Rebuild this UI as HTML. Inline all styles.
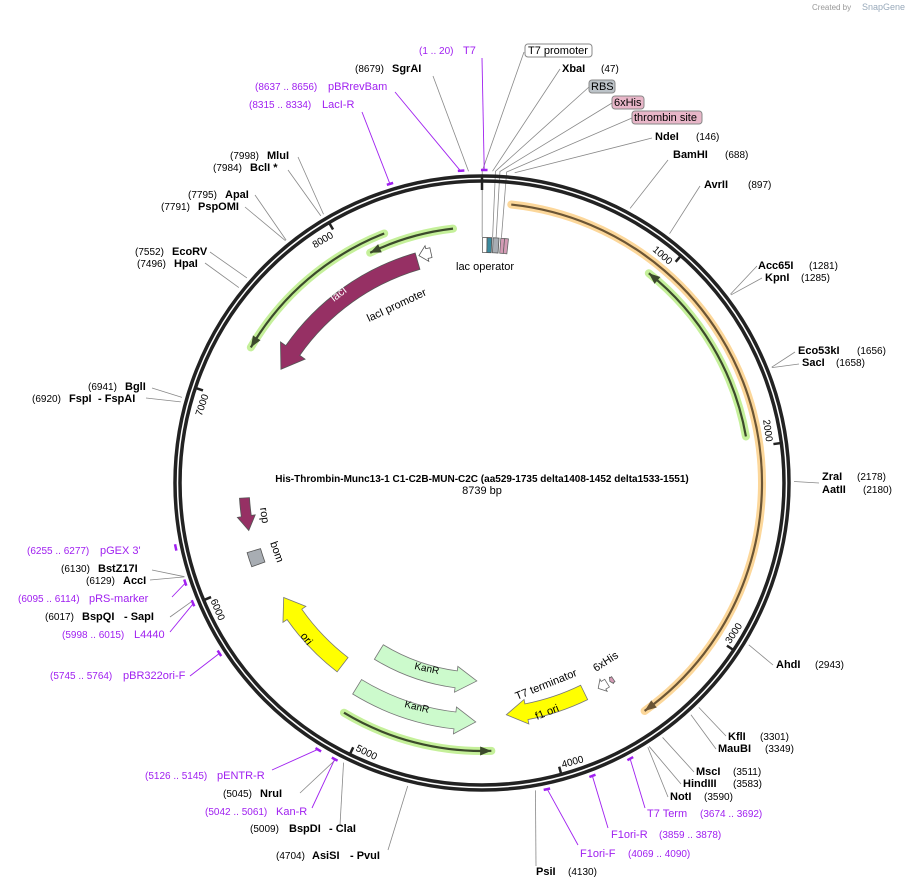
<!DOCTYPE html>
<html><head><meta charset="utf-8"><style>
html,body{margin:0;padding:0;background:#fff;width:910px;height:888px;overflow:hidden}
svg{display:block;font-family:"Liberation Sans","DejaVu Sans",sans-serif}
.n{font-size:10px;fill:#000}
.b{font-size:11px;font-weight:bold;fill:#000}
.p{font-size:11px;fill:#a020f0}
.pn{font-size:10px;fill:#a020f0}
.f{font-size:11px;fill:#000}
</style></head><body>
<svg id="s" width="910" height="888" viewBox="0 0 910 888" xmlns="http://www.w3.org/2000/svg">
<g id="lines"></g>
<circle cx="482" cy="483" r="307" fill="none" stroke="#222" stroke-width="3.5"/>
<circle cx="482" cy="483" r="302" fill="none" stroke="#222" stroke-width="3.5"/>
<g id="feat"></g>
<text x="812" y="10" font-size="8" fill="#999">Created by</text><text x="862" y="10" font-size="9" fill="#9ab">SnapGene</text>
<text x="482" y="482" text-anchor="middle" font-size="10" font-weight="bold">His-Thrombin-Munc13-1 C1-C2B-MUN-C2C (aa529-1735 delta1408-1452 delta1533-1551)</text>
<text x="482" y="494" text-anchor="middle" font-size="11">8739 bp</text>
<text x="419" y="54" class="pn">(1 .. 20)</text><text x="463" y="54" class="p">T7</text>
<rect x="525" y="44" width="67" height="13" rx="3" fill="#fff" stroke="#888"/><text x="528" y="54" class="f">T7 promoter</text>
<text x="562" y="72" class="b">XbaI</text><text x="601" y="72" class="n">(47)</text>
<rect x="589" y="80" width="26" height="13" rx="3" fill="#bcc3c8" stroke="#888"/><text x="591" y="90" class="f">RBS</text>
<rect x="612" y="96" width="32" height="13" rx="3" fill="#e8b6c8" stroke="#888"/><text x="614" y="106" class="f">6xHis</text>
<rect x="632" y="111" width="70" height="13" rx="3" fill="#e8b6c8" stroke="#888"/><text x="634" y="121" class="f">thrombin site</text>
<text x="655" y="140" class="b">NdeI</text><text x="696" y="140" class="n">(146)</text>
<text x="673" y="158" class="b">BamHI</text><text x="725" y="158" class="n">(688)</text>
<text x="704" y="188" class="b">AvrII</text><text x="748" y="188" class="n">(897)</text>
<text x="758" y="269" class="b">Acc65I</text><text x="809" y="269" class="n">(1281)</text>
<text x="765" y="281" class="b">KpnI</text><text x="801" y="281" class="n">(1285)</text>
<text x="798" y="354" class="b">Eco53kI</text><text x="857" y="354" class="n">(1656)</text>
<text x="802" y="366" class="b">SacI</text><text x="836" y="366" class="n">(1658)</text>
<text x="822" y="480" class="b">ZraI</text><text x="857" y="480" class="n">(2178)</text>
<text x="822" y="493" class="b">AatII</text><text x="863" y="493" class="n">(2180)</text>
<text x="776" y="668" class="b">AhdI</text><text x="815" y="668" class="n">(2943)</text>
<text x="728" y="740" class="b">KflI</text><text x="760" y="740" class="n">(3301)</text>
<text x="718" y="752" class="b">MauBI</text><text x="765" y="752" class="n">(3349)</text>
<text x="696" y="775" class="b">MscI</text><text x="733" y="775" class="n">(3511)</text>
<text x="683" y="787" class="b">HindIII</text><text x="733" y="787" class="n">(3583)</text>
<text x="670" y="800" class="b">NotI</text><text x="704" y="800" class="n">(3590)</text>
<text x="647" y="817" class="p">T7 Term</text><text x="700" y="817" class="pn">(3674 .. 3692)</text>
<text x="611" y="838" class="p">F1ori-R</text><text x="659" y="838" class="pn">(3859 .. 3878)</text>
<text x="580" y="857" class="p">F1ori-F</text><text x="628" y="857" class="pn">(4069 .. 4090)</text>
<text x="536" y="875" class="b">PsiI</text><text x="568" y="875" class="n">(4130)</text>
<text x="276" y="859" class="n">(4704)</text><text x="312" y="859" class="b">AsiSI</text><text x="350" y="859" class="b">- PvuI</text>
<text x="250" y="832" class="n">(5009)</text><text x="289" y="832" class="b">BspDI</text><text x="329" y="832" class="b">- ClaI</text>
<text x="205" y="815" class="pn">(5042 .. 5061)</text><text x="276" y="815" class="p">Kan-R</text>
<text x="223" y="797" class="n">(5045)</text><text x="260" y="797" class="b">NruI</text>
<text x="145" y="779" class="pn">(5126 .. 5145)</text><text x="217" y="779" class="p">pENTR-R</text>
<text x="50" y="679" class="pn">(5745 .. 5764)</text><text x="123" y="679" class="p">pBR322ori-F</text>
<text x="62" y="638" class="pn">(5998 .. 6015)</text><text x="134" y="638" class="p">L4440</text>
<text x="45" y="620" class="n">(6017)</text><text x="82" y="620" class="b">BspQI</text><text x="124" y="620" class="b">- SapI</text>
<text x="18" y="602" class="pn">(6095 .. 6114)</text><text x="89" y="602" class="p">pRS-marker</text>
<text x="86" y="584" class="n">(6129)</text><text x="123" y="584" class="b">AccI</text>
<text x="61" y="572" class="n">(6130)</text><text x="98" y="572" class="b">BstZ17I</text>
<text x="27" y="554" class="pn">(6255 .. 6277)</text><text x="100" y="554" class="p">pGEX 3'</text>
<text x="88" y="390" class="n">(6941)</text><text x="125" y="390" class="b">BglI</text>
<text x="32" y="402" class="n">(6920)</text><text x="69" y="402" class="b">FspI</text><text x="98" y="402" class="b">- FspAI</text>
<text x="135" y="255" class="n">(7552)</text><text x="172" y="255" class="b">EcoRV</text>
<text x="137" y="267" class="n">(7496)</text><text x="174" y="267" class="b">HpaI</text>
<text x="188" y="198" class="n">(7795)</text><text x="225" y="198" class="b">ApaI</text>
<text x="161" y="210" class="n">(7791)</text><text x="198" y="210" class="b">PspOMI</text>
<text x="230" y="159" class="n">(7998)</text><text x="267" y="159" class="b">MluI</text>
<text x="213" y="171" class="n">(7984)</text><text x="250" y="171" class="b">BclI *</text>
<text x="249" y="108" class="pn">(8315 .. 8334)</text><text x="322" y="108" class="p">LacI-R</text>
<text x="255" y="90" class="pn">(8637 .. 8656)</text><text x="328" y="90" class="p">pBRrevBam</text>
<text x="355" y="72" class="n">(8679)</text><text x="392" y="72" class="b">SgrAI</text>
<g id="ticks"></g>
<text x="456" y="270" font-size="11">lac operator</text>
<text transform="translate(369,322) rotate(-25)" font-size="11">lacI promoter</text>
<text transform="translate(334,302) rotate(-38)" font-size="11" fill="#fff">lacI</text>
<text transform="translate(260,508) rotate(82)" font-size="11">rop</text>
<text transform="translate(270,543) rotate(70)" font-size="11">bom</text>
<text transform="translate(300,636) rotate(52)" font-size="11">ori</text>
<text transform="translate(414,669) rotate(12)" font-size="10">KanR</text>
<text transform="translate(404,707) rotate(14)" font-size="10">KanR</text>
<text transform="translate(517,700) rotate(-22)" font-size="11">T7 terminator</text>
<text transform="translate(596,672) rotate(-33)" font-size="11">6xHis</text>
<text transform="translate(537,720) rotate(-22)" font-size="11">f1 ori</text>
</svg>
<script>
var cx=482,cy=483,N=8739,NS="http://www.w3.org/2000/svg";
function A(p){return p/N*360;}
function P(r,a){a=a*Math.PI/180;return [cx+r*Math.sin(a),cy-r*Math.cos(a)];}
function el(g,t,at){var e=document.createElementNS(NS,t);for(var k in at)e.setAttribute(k,at[k]);document.getElementById(g).appendChild(e);return e;}
function arc(r,a1,a2){var p1=P(r,a1),p2=P(r,a2),l=Math.abs(a2-a1)>180?1:0,sw=a2>a1?1:0;return "M"+p1+" A"+r+" "+r+" 0 "+l+" "+sw+" "+p2;}
function L(pos,x,y,r){var a=A(pos),p=P(312,a);var pts=(r?P(r,a)+" ":"")+p+" "+x+","+y;el("lines","polyline",{points:pts,fill:"none",stroke:"#888","stroke-width":0.8});}
[[1,524,52,246],[47,560,69],[60,589,87,246],[80,612,103,246],[110,632,118,246],[146,652,138],[688,668,160],[897,700,186],[1281,757,266],[1285,762,278],[1656,795,352],[1658,799,364],[2178,819,483],[2943,773,665],[3301,726,736],[3349,716,749],[3511,694,772],[3583,681,784],[3590,668,797],[4130,536,866],[4704,388,850],[5009,340,825],[5045,300,793],[6130,152,570],[6129,150,580],[6017,170,617],[6941,152,388],[6920,146,398],[7552,210,252],[7496,205,263],[7795,255,195],[7791,245,207],[7984,288,170],[7998,298,157],[8679,433,76]].forEach(function(d){L(d[0],d[1],d[2],d[3]);});
function Pr(pos,x,y){var a=A(pos);var p=P(312,a);el("lines","path",{d:arc(313,a-0.6,a+0.6),stroke:"#a020f0","stroke-width":2.5,fill:"none"});if(x!=null)el("lines","line",{x1:p[0],y1:p[1],x2:x,y2:y,stroke:"#a020f0","stroke-width":0.9});}
Pr(10,482,58);Pr(8646,395,92);Pr(8324,362,112);Pr(6266);Pr(6104,172,597);Pr(6006,170,632);Pr(5754,190,676);Pr(5135,272,770);Pr(5051,312,808);Pr(3683,645,808);Pr(3868,608,828);Pr(4079,578,845);
for(var k=1;k<=8;k++){var a=A(k*1000),p1=P(303,a),p2=P(294,a);el("ticks","line",{x1:p1[0],y1:p1[1],x2:p2[0],y2:p2[1],stroke:"#222","stroke-width":2.5});
 var flip=(a>90&&a<270),r=flip?296:287,pt=P(r,a),rot=flip?a-180:a;var t=el("ticks","text",{transform:"translate("+pt[0]+","+pt[1]+") rotate("+rot+")","font-size":"10","text-anchor":flip?"start":"end",x:flip?3:-3});t.textContent=String(k*1000);}
el("ticks","line",{x1:482,y1:176,x2:482,y2:190,stroke:"#222","stroke-width":2.5});
function halo(r,a1,a2,hc,lc){el("feat","path",{d:arc(r,a1,a2),stroke:hc,"stroke-width":8,fill:"none","stroke-linecap":"round"});
 el("feat","path",{d:arc(r,a1,a2),stroke:lc,"stroke-width":2.2,fill:"none"});
 var dir=a2>a1?1:-1,tip=P(r,a2),b1=P(r+4.5,a2-dir*2.4),b2=P(r-4.5,a2-dir*2.4);
 el("feat","path",{d:"M"+tip+" L"+b1+" L"+b2+" Z",fill:lc});}
halo(280,6,144.5,"#fcd79a","#6b5535");
halo(268,80,38.5,"#c5f09a","#3c4a2c");
halo(268,-21.4,-59.6,"#c5f09a","#3c4a2c");
halo(256,-6.5,-25.9,"#c5f09a","#3c4a2c");
halo(268,-149,-182,"#c5f09a","#3c4a2c");
function band(rc,w,hw,a1,a2,fill,stroke,ha){var dir=a2>a1?1:-1,ah=a2-dir*ha,ri=rc-w/2,ro=rc+w/2;
 var d="M"+P(ro,a1)+" "+arc(ro,a1,ah).replace(/^M[^A]*/,"")+" L"+P(rc+hw/2,ah)+" L"+P(rc,a2)+" L"+P(rc-hw/2,ah)+" L"+P(ri,ah)+" "+arc(ri,ah,a1).replace(/^M[^A]*/,"")+" Z";
 el("feat","path",{d:d,fill:fill,stroke:stroke,"stroke-width":0.8});}
band(231,17,30,-16.2,-60.5,"#963064","#555",5.5);
band(229,18,28,-142.5,-120,"#ffff00","#777",5);
band(239,17,27,-148.5,-178.5,"#ccfacc","#777",5);
band(198,17,26,-148.6,-178.5,"#ccfacc","#777",6);
band(233,16,25,154,174,"#ffff00","#777",5);
band(238,10,18,-93.6,-101.5,"#963064","#555",3.5);
band(238,14,0.1,-106.5,-110,"#a8adb3","#555",0.01);
band(236,10,16,-12.5,-15.5,"#fff","#555",2);
band(236,9,14,148,150.5,"#fff","#666",1.5);
band(236,6,8,146.2,147.2,"#d49bb5","#666",0.5);
band(238,15,0.1,0.1,1.2,"#fff","#666",0.01);
band(238,15,0.1,1.2,2.3,"#3a8a9e","#555",0.01);
band(238,15,0.1,2.6,4.0,"#a8adb3","#555",0.01);
band(238,15,0.1,4.4,5.3,"#d49bb5","#666",0.01);
band(238,15,0.1,5.3,6.2,"#d49bb5","#666",0.01);
</script>
</body></html>
